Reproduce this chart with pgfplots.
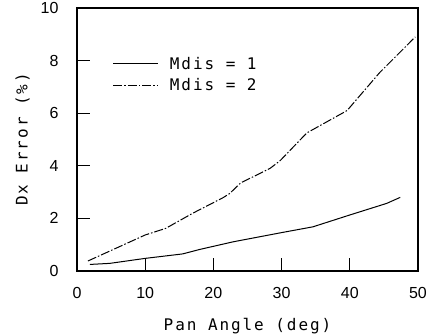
\documentclass[border=0pt]{standalone}
\usepackage{fontspec}
\setmainfont{DejaVu Sans Mono}
\newfontfamily\lblfont[LetterSpace=12]{DejaVu Sans Mono}
\newfontfamily\tickfont{Liberation Sans}
\usepackage{pgfplots}
\pgfplotsset{compat=1.18}
\begin{document}
\begin{tikzpicture}
\useasboundingbox (-77pt,-64pt) rectangle (354pt,271pt);
\begin{axis}[
  scale only axis,
  width=341pt, height=263pt,
  xmin=0, xmax=50, ymin=0, ymax=10,
  xtick={0,10,20,30,40,50},
  ytick={0,2,4,6,8,10},
  tick align=inside,
  xtick pos=bottom, ytick pos=left,
  major tick length=13pt,
  tick style={line width=1.2pt, black},
  axis line style={line width=1.2pt},
  /pgf/number format/assume math mode=true,
  tick label style={font=\tickfont\fontsize{16}{18}\selectfont},
  xticklabel style={yshift=-13pt},
  yticklabel style={xshift=-15pt},
  xlabel={\lblfont\fontsize{16}{18}\selectfont Pan Angle (deg)},
  ylabel={\lblfont\fontsize{16}{18}\selectfont Dx Error (\%)},
  xlabel style={yshift=-13pt},
  ylabel style={yshift=4pt},
  legend style={draw=none, fill=none, at={(axis cs:4.8,8.3)}, anchor=north west,
    font=\lblfont\fontsize{16}{18}\selectfont, row sep=4pt,
    /tikz/every odd column/.append style={column sep=9pt}},
  legend cell align=left,
  legend image code/.code={\draw[#1] (0pt,0pt) -- (45pt,0pt);},
]
\addplot[black, line width=1pt] coordinates {
(1.9,0.25) (4.8,0.29) (10.0,0.48) (15.5,0.65) (18.0,0.82) (22.9,1.11)
(30.0,1.46) (34.6,1.68) (40.0,2.13) (45.4,2.57) (47.4,2.80)};
\addlegendentry{Mdis = 1}
\addplot[black, line width=1pt, dash pattern=on 9pt off 2pt on 1.5pt off 2pt] coordinates {
(1.6,0.38) (10,1.37) (13,1.62) (17,2.2) (21.5,2.8) (22.4,2.95) (24,3.35)
(28.3,3.9) (29.8,4.2) (33.7,5.25) (37.1,5.74) (39.6,6.1) (44.4,7.55) (49.6,8.9)};
\addlegendentry{Mdis = 2}
\end{axis}
\end{tikzpicture}
\end{document}
